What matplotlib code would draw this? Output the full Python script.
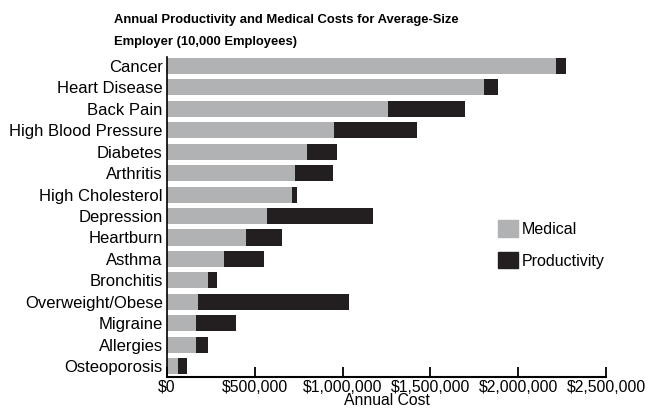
import matplotlib.pyplot as plt
from matplotlib.ticker import FuncFormatter
from matplotlib.patches import Patch

plt.rcParams['font.family'] = ['Liberation Sans', 'DejaVu Sans']

conditions = ['Cancer', 'Heart Disease', 'Back Pain', 'High Blood Pressure',
              'Diabetes', 'Arthritis', 'High Cholesterol', 'Depression',
              'Heartburn', 'Asthma', 'Bronchitis', 'Overweight/Obese',
              'Migraine', 'Allergies', 'Osteoporosis']
medical = [2215000, 1805000, 1259000, 951000, 797000, 729000, 712000, 569000,
           450000, 325000, 233000, 177000, 165000, 165000, 63000]
total = [2272000, 1885000, 1697000, 1424000, 968000, 945000, 740000, 1173000,
         655000, 552000, 285000, 1036000, 393000, 233000, 114000]
productivity = [t - m for t, m in zip(total, medical)]

title_lines = ['Annual Productivity and Medical Costs for Average-Size',
               'Employer (10,000 Employees)']

gray = '#b1b2b4'
black = '#231f20'

fig = plt.figure(figsize=(6.58, 4.11), dpi=100)
ax = fig.add_axes([167 / 658, 1 - 377 / 411, (606 - 167) / 658, (377 - 57) / 411])

y = list(range(len(conditions)))
ax.barh(y, medical, height=0.75, color=gray)
ax.barh(y, productivity, left=medical, height=0.75, color=black)

ax.set_ylim(len(conditions) - 1 + 0.51, -0.42)
ax.set_xlim(0, 2500000)
ax.set_yticks(y)
ax.set_yticklabels(conditions, fontsize=12)
ax.tick_params(axis='y', length=0, pad=3)
ax.set_xticks([0, 500000, 1000000, 1500000, 2000000, 2500000])
ax.xaxis.set_major_formatter(FuncFormatter(lambda v, p: '${:,.0f}'.format(v)))
ax.tick_params(axis='x', direction='in', length=7, width=1.3, labelsize=11.3, pad=2)
ax.set_xlabel('Annual Cost', fontsize=11.3, labelpad=-1)

for s in ['top', 'right']:
    ax.spines[s].set_visible(False)
ax.spines['left'].set_linewidth(1.2)
ax.spines['bottom'].set_linewidth(1.5)

# two title lines placed separately to get the wider line gap
fig.text(114 / 658, 1 - 20 / 411, title_lines[0], fontsize=9.4, fontweight='bold',
         va='center', ha='left')
fig.text(114 / 658, 1 - 42 / 411, title_lines[1], fontsize=9.4, fontweight='bold',
         va='center', ha='left')

handles = [Patch(color=gray, label='Medical'), Patch(color=black, label='Productivity')]
fig.legend(handles=handles, loc='upper left', bbox_to_anchor=(484 / 658, 1 - 206 / 411),
           frameon=False, fontsize=11.5, handlelength=1.2, handleheight=1.2,
           labelspacing=0.95, handletextpad=0.25)

fig.savefig('out.png', dpi=100)
